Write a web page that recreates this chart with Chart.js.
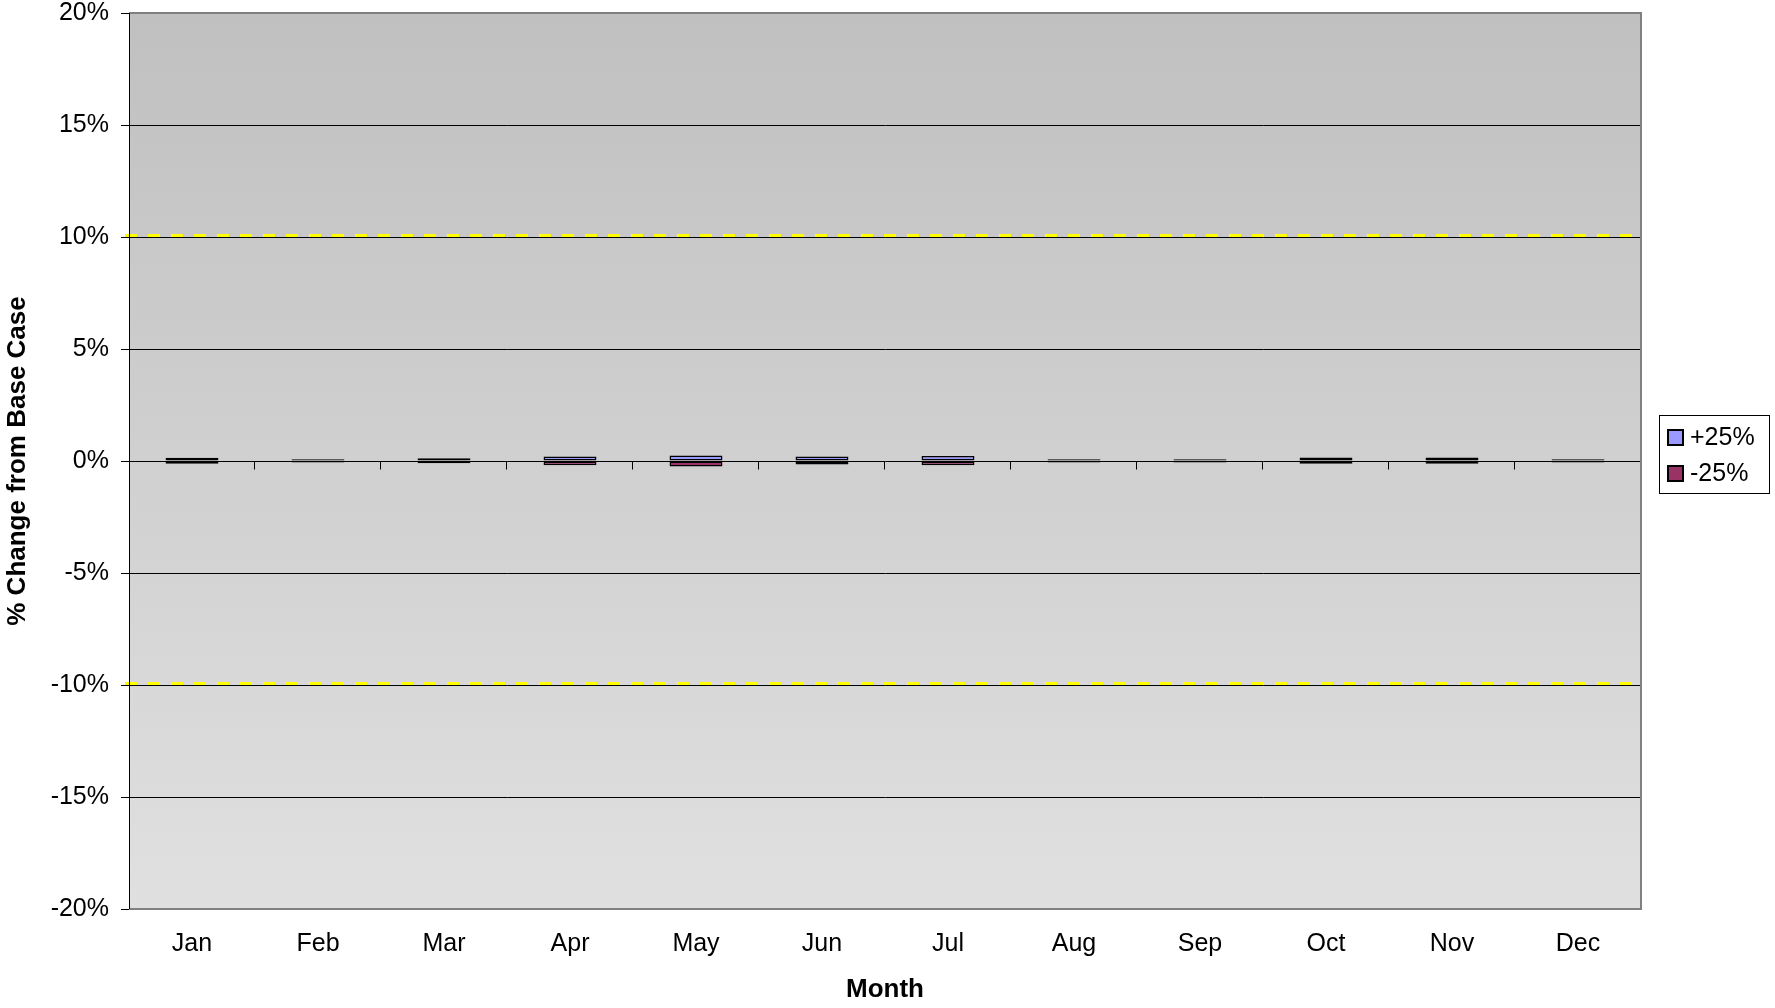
<!DOCTYPE html>
<html>
<head>
<meta charset="utf-8">
<script src="https://cdn.jsdelivr.net/npm/chart.js@4/dist/chart.umd.min.js"></script>
<style>
  html, body { margin: 0; padding: 0; background: #ffffff; }
  #wrap { position: relative; width: 1775px; height: 1008px; }
</style>
</head>
<body>
<div id="wrap"><canvas id="c" width="1775" height="1008"></canvas></div>
<script>
const months = ['Jan','Feb','Mar','Apr','May','Jun','Jul','Aug','Sep','Oct','Nov','Dec'];
const plus25 = [0.15, 0.075, 0.12, 0.20, 0.25, 0.20, 0.22, 0.075, 0.075, 0.16, 0.16, 0.075];
const minus25 = [-0.12, -0.07, -0.10, -0.19, -0.25, -0.16, -0.19, -0.07, -0.07, -0.12, -0.12, -0.07];
const seriesLabels = ['+25%', '-25%'];
const thresholds = [10, -10];
const yMin = -20, yMax = 20, yStep = 5;

const FONT = "'Liberation Sans', Arial, sans-serif";

const decor = {
  id: 'decor',
  beforeDraw(chart) {
    const {ctx, chartArea: a} = chart;
    const g = ctx.createLinearGradient(0, a.top, 0, a.bottom);
    g.addColorStop(0, '#c0c0c0');
    g.addColorStop(1, '#e0e0e0');
    ctx.save();
    ctx.fillStyle = g;
    ctx.fillRect(a.left, a.top, a.right - a.left, a.bottom - a.top);
    ctx.restore();
  },
  beforeDatasetsDraw(chart) {
    const {ctx, chartArea: a, scales} = chart;
    const y = scales.y;
    ctx.save();
    ctx.strokeStyle = '#ffff00';
    ctx.lineWidth = 3;
    ctx.setLineDash([12, 11]);
    thresholds.forEach(v => {
      const py = Math.round(y.getPixelForValue(v)) - 1.5;
      ctx.beginPath();
      ctx.moveTo(a.left - 4, py);
      ctx.lineTo(a.right, py);
      ctx.stroke();
    });
    ctx.setLineDash([]);
    const zy = Math.round(y.getPixelForValue(0)) + 0.5;
    ctx.strokeStyle = '#000000';
    ctx.lineWidth = 1;
    const n = months.length;
    const cw = (a.right - a.left) / n;
    ctx.beginPath();
    for (let i = 1; i <= n; i++) {
      const px = Math.round(a.left + i * cw) - 0.5;
      ctx.moveTo(px, zy);
      ctx.lineTo(px, zy + 8);
    }
    ctx.stroke();
    ctx.restore();
  },
  afterDatasetsDraw(chart) {
    const {ctx, chartArea: a} = chart;
    ctx.save();
    ctx.strokeStyle = '#808080';
    ctx.lineWidth = 2;
    ctx.beginPath();
    ctx.moveTo(a.left, a.top);
    ctx.lineTo(a.right, a.top);
    ctx.lineTo(a.right, a.bottom);
    ctx.lineTo(a.left, a.bottom);
    ctx.stroke();
    ctx.strokeStyle = '#000000';
    ctx.lineWidth = 1;
    ctx.beginPath();
    ctx.moveTo(a.left + 0.5, a.top);
    ctx.lineTo(a.left + 0.5, a.bottom);
    ctx.stroke();
    ctx.restore();
  },
  afterDraw(chart) {
    const {ctx} = chart;
    ctx.save();
    const bx = 1659.5, by = 415.5, bw = 110, bh = 78;
    ctx.fillStyle = '#ffffff';
    ctx.fillRect(bx, by, bw, bh);
    ctx.strokeStyle = '#000000';
    ctx.lineWidth = 1;
    ctx.strokeRect(bx, by, bw, bh);
    const centers = [437, 473];
    chart.data.datasets.forEach((ds, i) => {
      const cy = centers[i];
      ctx.fillStyle = ds.backgroundColor;
      ctx.fillRect(1668, cy - 7, 15, 15);
      ctx.lineWidth = 2;
      ctx.strokeStyle = '#000000';
      ctx.strokeRect(1668, cy - 7, 15, 15);
      ctx.fillStyle = '#000000';
      ctx.font = '25px ' + FONT;
      ctx.textAlign = 'left';
      ctx.textBaseline = 'middle';
      ctx.fillText(ds.label, 1690, cy + 1);
    });
    ctx.restore();
  }
};

new Chart(document.getElementById('c'), {
  type: 'bar',
  data: {
    labels: months,
    datasets: [
      { label: seriesLabels[0], data: plus25, backgroundColor: '#9999ff', borderColor: '#000000', borderWidth: 1.5, inflateAmount: 0, borderSkipped: false },
      { label: seriesLabels[1], data: minus25, backgroundColor: '#993366', borderColor: '#000000', borderWidth: 1.5, inflateAmount: 0, borderSkipped: false }
    ]
  },
  options: {
    responsive: false,
    animation: false,
    devicePixelRatio: 1,
    layout: { padding: { top: 13, right: 134, bottom: 0, left: 0 } },
    datasets: { bar: { categoryPercentage: 1.0, barPercentage: 0.42 } },
    plugins: { legend: { display: false }, tooltip: { enabled: false } },
    scales: {
      x: {
        stacked: true,
        grid: { display: false, drawTicks: false },
        border: { display: false },
        ticks: { color: '#000000', font: { family: FONT, size: 25, lineHeight: 1.2 }, padding: 20, maxRotation: 0 },
        title: { display: true, text: 'Month', color: '#000000', font: { family: FONT, size: 26, weight: 'bold', lineHeight: 1.2 }, padding: { top: 0, bottom: 3 } },
        afterFit(s) { s.height = 99; s.paddingLeft = 0; s.paddingRight = 0; }
      },
      y: {
        stacked: true,
        min: yMin, max: yMax,
        grid: { color: '#000000', lineWidth: 1, drawTicks: true, tickLength: 8, tickColor: '#000000' },
        border: { display: true, color: '#000000', width: 1 },
        ticks: { stepSize: yStep, color: '#000000', padding: 12, font: { family: FONT, size: 25, lineHeight: 1 }, callback: v => v + '%' },
        title: { display: true, text: '% Change from Base Case', color: '#000000', font: { family: FONT, size: 26, weight: 'bold', lineHeight: 1.2 }, padding: { top: 2, bottom: 0 } },
        afterFit(s) { s.width = 129; s.paddingTop = 0; s.paddingBottom = 0; }
      }
    }
  },
  plugins: [decor]
});
</script>
</body>
</html>
